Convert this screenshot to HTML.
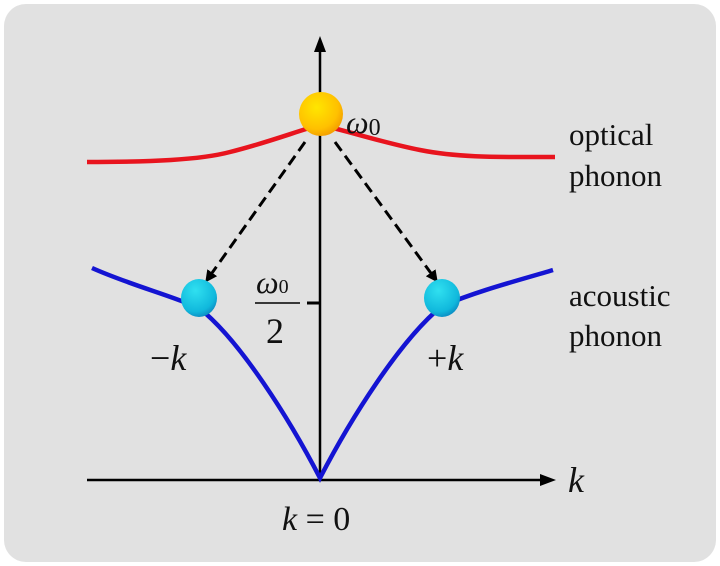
<!DOCTYPE html>
<html><head><meta charset="utf-8"><style>
html,body{margin:0;padding:0;background:#fff;width:720px;height:566px;overflow:hidden}
</style></head><body>
<svg width="720" height="566" viewBox="0 0 720 566" xmlns="http://www.w3.org/2000/svg">
<defs>
<radialGradient id="yb" cx="0.4" cy="0.35" r="0.7"><stop offset="0" stop-color="#ffe600"/><stop offset="0.7" stop-color="#ffc000"/><stop offset="1" stop-color="#f29a00"/></radialGradient>
<radialGradient id="cb" cx="0.4" cy="0.3" r="0.8"><stop offset="0" stop-color="#30e0f0"/><stop offset="0.7" stop-color="#10b8dc"/><stop offset="1" stop-color="#0a78b8"/></radialGradient>
<marker id="ah" markerWidth="12" markerHeight="12" refX="9" refY="6" orient="auto" markerUnits="userSpaceOnUse"><path d="M0,0 L12,6 L0,12 z" fill="#000"/></marker>
</defs>
<rect x="4" y="4" width="712" height="558" rx="22" fill="#e1e1e1"/>
<line x1="320" y1="480" x2="320" y2="46" stroke="#000" stroke-width="2.5"/>
<path d="M314,52 L320,36 L326,52 z" fill="#000"/>
<line x1="87" y1="480" x2="546" y2="480" stroke="#000" stroke-width="2.5"/>
<path d="M540,474 L556,480 L540,486 z" fill="#000"/>
<path d="M87,162 C150,162 200,160 230,152 C270,142 300,130 320,125 C345,130 380,142 420,150 C460,158 500,157 555,157" fill="none" stroke="#e8141e" stroke-width="4.5"/>
<path d="M92,268 C130,285 170,295 199,308 C240,340 290,420 320,478 C350,420 400,340 442,306 C480,290 520,280 553,270" fill="none" stroke="#1414d2" stroke-width="4.5"/>
<line x1="305" y1="142" x2="207" y2="280" stroke="#000" stroke-width="3" stroke-dasharray="11,6" marker-end="url(#ah)"/>
<line x1="335" y1="142" x2="436" y2="280" stroke="#000" stroke-width="3" stroke-dasharray="11,6" marker-end="url(#ah)"/>
<circle cx="321" cy="114" r="22" fill="url(#yb)"/>
<ellipse cx="199" cy="298" rx="18" ry="19" fill="url(#cb)"/>
<ellipse cx="442" cy="298" rx="18" ry="19" fill="url(#cb)"/>
<line x1="307" y1="303" x2="320" y2="303" stroke="#000" stroke-width="3"/>
<line x1="255" y1="303" x2="300" y2="303" stroke="#000" stroke-width="1.5"/>
<g font-family="Liberation Serif, serif" fill="#111">
<text x="346" y="133" font-size="32" font-style="italic">ω<tspan font-style="normal" font-size="24" dy="2">0</tspan></text>
<text x="256" y="293" font-size="32" font-style="italic">ω<tspan font-style="normal" font-size="20">0</tspan></text>
<text x="266" y="343" font-size="36">2</text>
<text x="150" y="370" font-size="36">−<tspan font-style="italic">k</tspan></text>
<text x="427" y="370" font-size="36">+<tspan font-style="italic">k</tspan></text>
<text x="282" y="530" font-size="34"><tspan font-style="italic">k</tspan> = 0</text>
<text x="568" y="492" font-size="36" font-style="italic">k</text>
</g>
<g font-family="Liberation Serif, serif" font-size="31" fill="#111">
<text x="569" y="145">optical</text>
<text x="569" y="186">phonon</text>
<text x="569" y="306">acoustic</text>
<text x="569" y="346">phonon</text>
</g>
</svg>
</body></html>
